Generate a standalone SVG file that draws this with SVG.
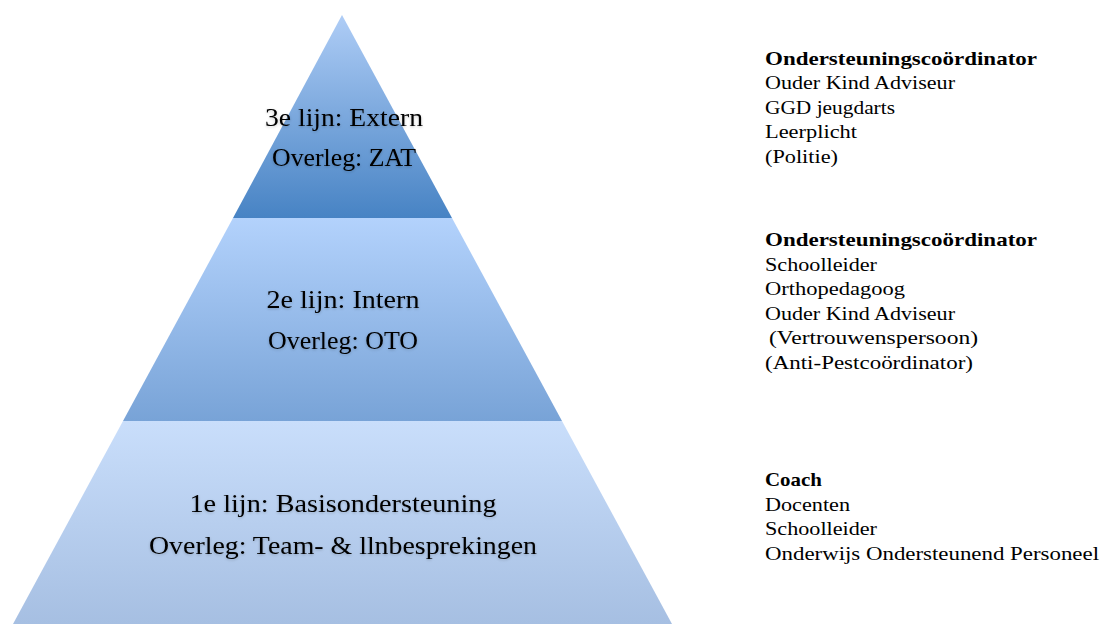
<svg xmlns="http://www.w3.org/2000/svg" width="1101" height="624" viewBox="0 0 1101 624">
<style>
.lbl{font-family:"Liberation Serif","DejaVu Serif",serif;font-size:25px;fill:#000;text-anchor:middle}
.side{font-family:"Liberation Serif","DejaVu Serif",serif;font-size:19.5px;fill:#000}
.b{font-weight:bold}
</style>
<defs>
<linearGradient id="g3" x1="0" y1="0" x2="0" y2="1"><stop offset="0" stop-color="#afcdf6"/><stop offset="1" stop-color="#4783c4"/></linearGradient>
<linearGradient id="g2" x1="0" y1="0" x2="0" y2="1"><stop offset="0" stop-color="#b3d2fc"/><stop offset="1" stop-color="#78a3d7"/></linearGradient>
<linearGradient id="g1" x1="0" y1="0" x2="0" y2="1"><stop offset="0" stop-color="#c9defb"/><stop offset="1" stop-color="#a6bfe2"/></linearGradient>
<filter id="sh" x="-10%" y="-30%" width="120%" height="160%"><feGaussianBlur in="SourceAlpha" stdDeviation="1.5" result="b"/><feOffset dx="0" dy="1" in="b" result="o"/><feComponentTransfer in="o" result="s"><feFuncA type="linear" slope="0.22"/></feComponentTransfer><feMerge><feMergeNode in="s"/><feMergeNode in="SourceGraphic"/></feMerge></filter>
</defs>
<rect width="1101" height="624" fill="#fff"/>
<g id="tier3">
<polygon points="342,15 452,218 233,218" fill="url(#g3)"/>
<g filter="url(#sh)">
<text class="lbl" x="344" y="126" textLength="158" lengthAdjust="spacingAndGlyphs">3e lijn: Extern</text>
<text class="lbl" x="344" y="166" textLength="144" lengthAdjust="spacingAndGlyphs">Overleg: ZAT</text>
</g>
</g>
<g id="tier2">
<polygon points="233,218 452,218 562,421 123,421" fill="url(#g2)"/>
<g filter="url(#sh)">
<text class="lbl" x="343" y="308" textLength="153" lengthAdjust="spacingAndGlyphs">2e lijn: Intern</text>
<text class="lbl" x="343" y="349" textLength="150" lengthAdjust="spacingAndGlyphs">Overleg: OTO</text>
</g>
</g>
<g id="tier1">
<polygon points="123,421 562,421 672,624 13,624" fill="url(#g1)"/>
<g filter="url(#sh)">
<text class="lbl" x="343" y="512" textLength="307" lengthAdjust="spacingAndGlyphs">1e lijn: Basisondersteuning</text>
<text class="lbl" x="343" y="554" textLength="388" lengthAdjust="spacingAndGlyphs">Overleg: Team- &amp; llnbesprekingen</text>
</g>
</g>
<g id="side3" class="side">
<text class="side b" x="765" y="65" textLength="272" lengthAdjust="spacingAndGlyphs">Ondersteuningscoördinator</text>
<text class="side" x="765" y="89" textLength="190" lengthAdjust="spacingAndGlyphs">Ouder Kind Adviseur</text>
<text class="side" x="765" y="114" textLength="130" lengthAdjust="spacingAndGlyphs">GGD jeugdarts</text>
<text class="side" x="765" y="138" textLength="92" lengthAdjust="spacingAndGlyphs">Leerplicht</text>
<text class="side" x="765" y="163" textLength="73" lengthAdjust="spacingAndGlyphs">(Politie)</text>
</g>
<g id="side2" class="side">
<text class="side b" x="765" y="246" textLength="272" lengthAdjust="spacingAndGlyphs">Ondersteuningscoördinator</text>
<text class="side" x="765" y="271" textLength="112" lengthAdjust="spacingAndGlyphs">Schoolleider</text>
<text class="side" x="765" y="295" textLength="140" lengthAdjust="spacingAndGlyphs">Orthopedagoog</text>
<text class="side" x="765" y="320" textLength="190" lengthAdjust="spacingAndGlyphs">Ouder Kind Adviseur</text>
<text class="side" x="769" y="344" textLength="209" lengthAdjust="spacingAndGlyphs">(Vertrouwenspersoon)</text>
<text class="side" x="765" y="369" textLength="208" lengthAdjust="spacingAndGlyphs">(Anti-Pestcoördinator)</text>
</g>
<g id="side1" class="side">
<text class="side b" x="765" y="486" textLength="57" lengthAdjust="spacingAndGlyphs">Coach</text>
<text class="side" x="765" y="511" textLength="85" lengthAdjust="spacingAndGlyphs">Docenten</text>
<text class="side" x="765" y="535" textLength="112" lengthAdjust="spacingAndGlyphs">Schoolleider</text>
<text class="side" x="765" y="560" textLength="334" lengthAdjust="spacingAndGlyphs">Onderwijs Ondersteunend Personeel</text>
</g>
<g id="connectors"/>
</svg>
